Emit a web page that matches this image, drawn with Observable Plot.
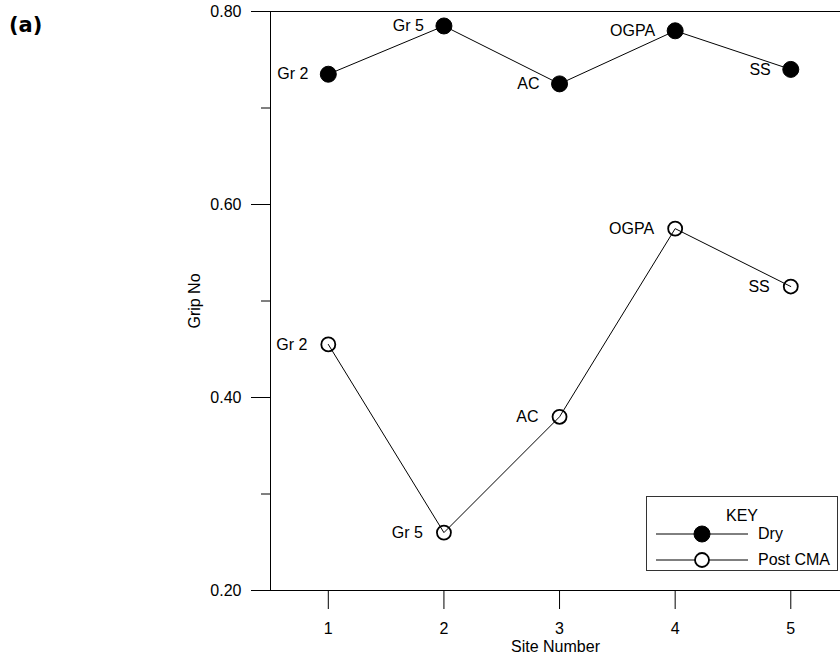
<!DOCTYPE html>
<html>
<head>
<meta charset="utf-8">
<script src="https://cdn.jsdelivr.net/npm/d3@7"></script>
<script src="https://cdn.jsdelivr.net/npm/@observablehq/plot@0.6"></script>
<style>
  html, body { margin: 0; padding: 0; background: #fff; overflow: hidden; }
  #wrap { position: relative; width: 840px; height: 657px; font-family: "Liberation Sans", Arial, sans-serif; }
  #panel { position: absolute; left: 9px; top: 15px; font-family: "DejaVu Sans", Verdana, sans-serif; font-weight: bold; font-size: 21px; line-height: 1; }
  #key { position: absolute; left: 646px; top: 496px; width: 192px; height: 75px; border: 1px solid #333; background: #fff; font-size: 16px; box-sizing: border-box; }
  #key .title { position: absolute; left: 0; width: 100%; top: 11px; text-align: center; line-height: 1; }
  #key .row { position: absolute; left: 9px; height: 20px; display: flex; align-items: center; }
  #key .row span { margin-left: 10px; line-height: 1; }
</style>
</head>
<body>
<div id="wrap">
  <div id="chart"></div>
  <div id="panel">(a)</div>
  <div id="key"><div class="title">KEY</div></div>
</div>
<script>
// ---- data ----
const sites = [1, 2, 3, 4, 5];
const surfaces = ["Gr 2", "Gr 5", "AC", "OGPA", "SS"];
const dryValues = [0.735, 0.785, 0.725, 0.780, 0.740];
const postCmaValues = [0.455, 0.260, 0.380, 0.575, 0.515];
const seriesNames = ["Dry", "Post CMA"];
const yMajorTicks = [0.20, 0.40, 0.60, 0.80];
const yMinorTicks = [0.30, 0.50, 0.70];
const xTicks = [1, 2, 3, 4, 5];

const dry = sites.map((s, i) => ({site: s, name: surfaces[i], value: dryValues[i]}));
const post = sites.map((s, i) => ({site: s, name: surfaces[i], value: postCmaValues[i]}));

const xDomain = [0.5, 5.43];
const yDomain = [0.2, 0.8];
const fontSize = "16px";

const chart = Plot.plot({
  width: 840,
  height: 657,
  marginLeft: 270,
  marginRight: 0,
  marginTop: 11,
  marginBottom: 67,
  style: {fontFamily: "'Liberation Sans', Arial, sans-serif", fontSize: fontSize, color: "#000", background: "#fff"},
  x: {domain: xDomain},
  y: {domain: yDomain},
  marks: [
    Plot.axisY({ticks: yMajorTicks, tickSize: 19, tickPadding: 10, tickFormat: d3.format(".2f"),
      label: "Grip No", labelAnchor: "center", labelArrow: "none", labelOffset: 82, fontSize: fontSize}),
    Plot.axisY({ticks: yMinorTicks, tickSize: 9, tickFormat: () => "", label: null}),
    Plot.axisX({ticks: xTicks, tickSize: 19, tickPadding: 13, tickFormat: d3.format("d"),
      label: "Site Number", labelAnchor: "center", labelArrow: "none", labelOffset: 61, fontSize: fontSize}),
    Plot.ruleX([xDomain[0]], {stroke: "#000"}),
    Plot.ruleY(yDomain, {stroke: "#000"}),
    Plot.line(dry, {x: "site", y: "value", stroke: "#000", strokeWidth: 1}),
    Plot.line(post, {x: "site", y: "value", stroke: "#000", strokeWidth: 1}),
    Plot.dot(dry, {x: "site", y: "value", r: 8, fill: "#000", stroke: "#000", strokeWidth: 1}),
    Plot.dot(post, {x: "site", y: "value", r: 7, fill: "none", stroke: "#000", strokeWidth: 1.8}),
    Plot.text(dry, {x: "site", y: "value", text: "name", textAnchor: "end", dx: -20, fontSize: fontSize, fill: "#000"}),
    Plot.text(post, {x: "site", y: "value", text: "name", textAnchor: "end", dx: -21, fontSize: fontSize, fill: "#000"})
  ]
});
document.getElementById("chart").appendChild(chart);

// ---- legend (key box) ----
const key = d3.select("#key");
seriesNames.forEach((name, i) => {
  const row = key.append("div").attr("class", "row").style("top", (i === 0 ? 27 : 53) + "px");
  const svg = row.append("svg").attr("width", 92).attr("height", 20);
  svg.append("line").attr("x1", 0).attr("x2", 92).attr("y1", 10).attr("y2", 10).attr("stroke", "#000");
  svg.append("circle").attr("cx", 46).attr("cy", 10).attr("r", i === 0 ? 8 : 7)
    .attr("fill", i === 0 ? "#000" : "#fff").attr("stroke", "#000").attr("stroke-width", i === 0 ? 1 : 1.8);
  row.append("span").text(name);
});
</script>
</body>
</html>
